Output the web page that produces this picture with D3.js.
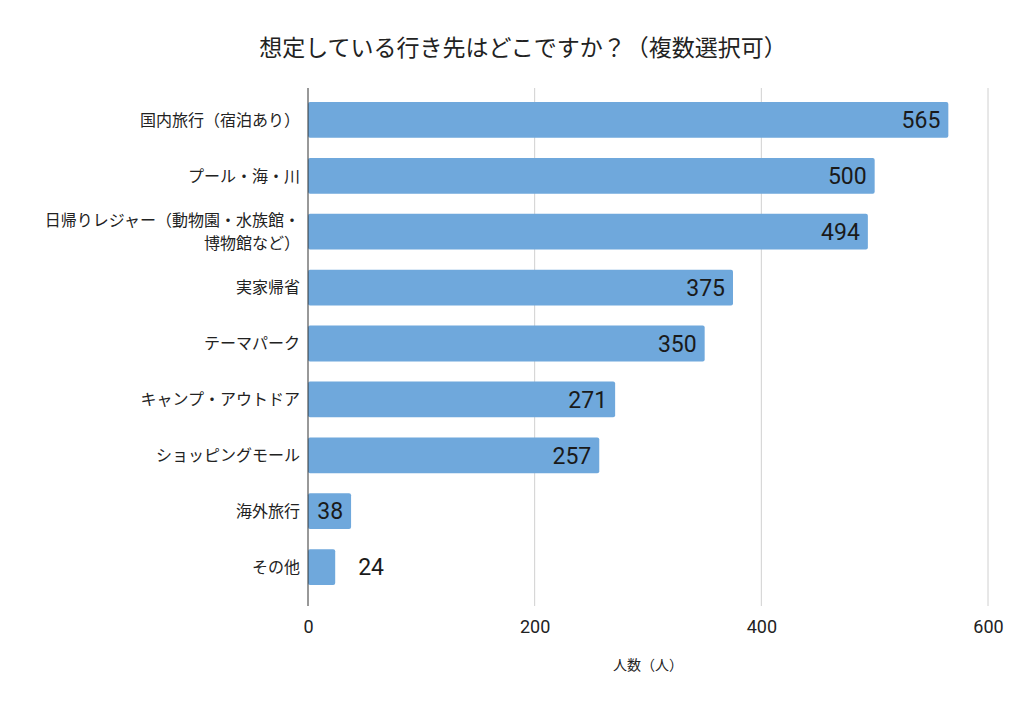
<!DOCTYPE html>
<html>
<head>
<meta charset="utf-8">
<script src="https://cdn.jsdelivr.net/npm/d3@7"></script>
<style>
  body { margin: 0; background: #fff; }
  svg { display: block; }
  .cat { font-family: "Noto Sans CJK JP", sans-serif; font-size: 16px; fill: #222; }
  .tick text { font-family: Roboto, sans-serif; font-size: 18px; fill: #222; }
</style>
</head>
<body>
<svg id="chart" width="1024" height="708"></svg>
<script>
// 想定している行き先 — horizontal bars
const CATEGORIES = [
    ['国内旅行（宿泊あり）'],
    ['プール・海・川'],
    ['日帰りレジャー（動物園・水族館・', '博物館など）'],
    ['実家帰省'],
    ['テーマパーク'],
    ['キャンプ・アウトドア'],
    ['ショッピングモール'],
    ['海外旅行'],
    ['その他']
];
const VALUES = [565, 500, 494, 375, 350, 271, 257, 38, 24];
const X_TICKS = [0, 200, 400, 600];
const TITLE = '想定している行き先はどこですか？（複数選択可）';
const X_TITLE = '人数（人）';

const svg = d3.select('#chart');
const PLOT = { left: 308, right: 988, top: 92, bottom: 595 };

const x = d3.scaleLinear().domain([0, 600]).range([PLOT.left, PLOT.right]);
const y = d3.scaleBand()
    .domain(d3.range(VALUES.length))
    .range([PLOT.top, PLOT.bottom])
    .paddingInner(0.36)
    .paddingOuter(0.18);

// grid
svg.append('g')
    .selectAll('line')
    .data(X_TICKS.slice(1))
    .join('line')
    .attr('x1', d => x(d)).attr('x2', d => x(d))
    .attr('y1', 88).attr('y2', 606)
    .attr('stroke', '#d0d0d0')
    .attr('stroke-width', 1);

// bars
svg.append('g')
    .selectAll('rect')
    .data(VALUES)
    .join('rect')
    .attr('x', x(0))
    .attr('y', (d, i) => y(i))
    .attr('width', d => x(d) - x(0))
    .attr('height', y.bandwidth())
    .attr('rx', 2)
    .attr('fill', '#6fa8dc');

// value labels: inside unless the bar is too short
svg.append('g')
    .selectAll('text')
    .data(VALUES)
    .join('text')
    .attr('x', d => d >= 30 ? x(d) - 8 : x(d) + 23)
    .attr('y', (d, i) => y(i) + y.bandwidth() / 2)
    .attr('dy', '0.36em')
    .attr('text-anchor', d => d >= 30 ? 'end' : 'start')
    .style('font-family', 'Roboto, sans-serif')
    .style('font-size', '23px')
    .style('fill', '#1a1a1a')
    .text(d => d);

// zero axis line
svg.append('line')
    .attr('x1', x(0)).attr('x2', x(0))
    .attr('y1', 88).attr('y2', 606)
    .attr('stroke', '#333')
    .attr('stroke-width', 1);

// category labels
const cats = svg.append('g')
    .selectAll('text')
    .data(CATEGORIES)
    .join('text')
    .attr('class', 'cat')
    .attr('text-anchor', 'end')
    .attr('y', (d, i) => y(i) + y.bandwidth() / 2);

cats.selectAll('tspan')
    .data(d => d.map((t, j) => ({ t, j, n: d.length })))
    .join('tspan')
    .attr('x', 300)
    .attr('dy', d => d.j === 0 ? `${0.36 - (d.n - 1) * 0.7}em` : '1.4em')
    .text(d => d.t);

// x axis
svg.append('g')
    .attr('transform', 'translate(0,606)')
    .call(d3.axisBottom(x).tickValues(X_TICKS).tickSize(0).tickPadding(14))
    .call(g => g.select('.domain').remove());

// titles
svg.append('text')
    .attr('x', 523).attr('y', 56)
    .attr('text-anchor', 'middle')
    .style('font-family', '"Noto Sans CJK JP", sans-serif')
    .style('font-size', '23px')
    .style('fill', '#222')
    .text(TITLE);

svg.append('text')
    .attr('x', (PLOT.left + PLOT.right) / 2).attr('y', 670)
    .attr('text-anchor', 'middle')
    .style('font-family', '"Noto Sans CJK JP", sans-serif')
    .style('font-size', '14px')
    .style('fill', '#222')
    .text(X_TITLE);
</script>
</body>
</html>
